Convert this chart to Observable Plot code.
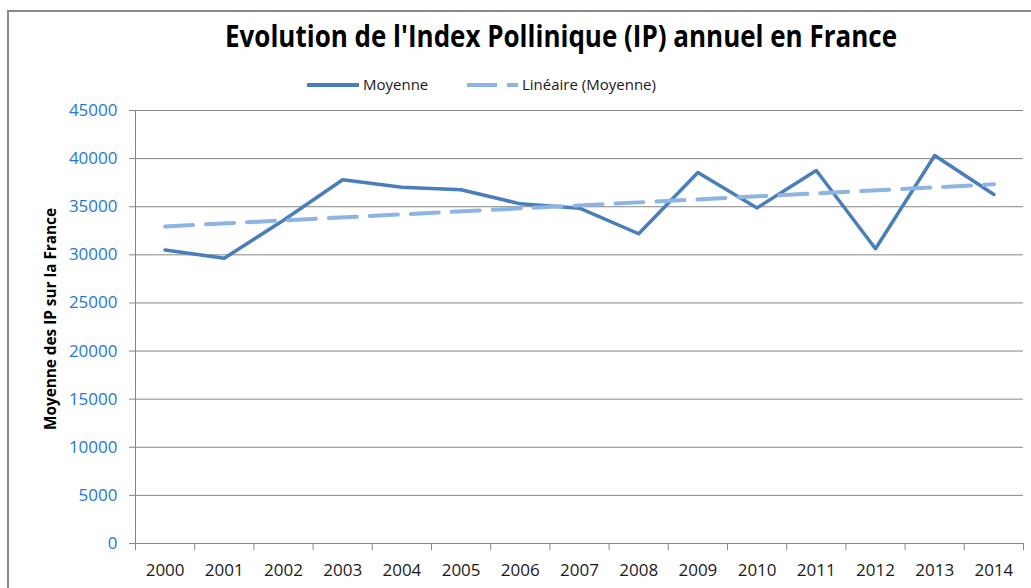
<!DOCTYPE html>
<html>
<head>
<meta charset="utf-8">
<script src="https://cdn.jsdelivr.net/npm/d3@7"></script>
<script src="https://cdn.jsdelivr.net/npm/@observablehq/plot@0.6"></script>
<style>
  html, body { margin: 0; padding: 0; background: #fff; }
  body { width: 1031px; height: 588px; overflow: hidden; position: relative; font-family: "Open Sans", sans-serif; }
  #frame { position: absolute; left: 7px; top: 10px; width: 1200px; height: 800px;
           border-left: 2px solid #8a8a8a; border-top: 2px solid #8a8a8a; box-sizing: border-box; }
  #chart { position: absolute; left: 0; top: 0; }
  #overlay { position: absolute; left: 0; top: 0; pointer-events: none; }
</style>
</head>
<body>
<div id="frame"></div>
<div id="chart"></div>
<svg id="overlay" width="1031" height="588"></svg>
<script>
// ---- data ----
const years = [2000, 2001, 2002, 2003, 2004, 2005, 2006, 2007, 2008, 2009, 2010, 2011, 2012, 2013, 2014];
const moyenne = [30500, 29650, 33600, 37800, 37030, 36760, 35300, 34850, 32190, 38560, 34880, 38760, 30630, 40320, 36270];
const yTicks = [0, 5000, 10000, 15000, 20000, 25000, 30000, 35000, 40000, 45000];
const titleText = "Evolution de l'Index Pollinique (IP) annuel en France";
const yLabel = "Moyenne des IP sur la France";
const seriesNames = ["Moyenne", "Linéaire (Moyenne)"];

const data = years.map((y, i) => ({year: y, value: moyenne[i]}));
const boundaries = [years[0] - 0.5, ...years.map(y => y + 0.5)];

const lineColor = "#4A7EBB";
const trendColor = "#8DB4E2";
const gridColor = "#868686";
const tickBlue = "#2478D2";

const plot = Plot.plot({
  width: 1031,
  height: 588,
  marginTop: 110,
  marginBottom: 45,
  marginLeft: 135,
  marginRight: 8,
  style: {fontFamily: "'Open Sans', sans-serif", fontSize: "17px", background: "transparent", overflow: "visible"},
  x: {domain: [boundaries[0], boundaries[boundaries.length - 1]]},
  y: {domain: [0, 45000]},
  marks: [
    Plot.ruleY(yTicks, {stroke: gridColor, strokeWidth: 1}),
    Plot.ruleX([boundaries[0]], {stroke: gridColor, strokeWidth: 1}),
    Plot.axisX({ticks: boundaries, tickSize: 7, tickFormat: () => "", stroke: gridColor, label: null}),
    Plot.axisX({ticks: years, tickSize: 0, tickPadding: 20, tickFormat: d => String(d), fill: "#1a1a1a", fontSize: 17, label: null}),
    Plot.axisY({ticks: yTicks, tickSize: 6, tickFormat: () => "", stroke: gridColor, label: null}),
    Plot.axisY({ticks: yTicks, tickSize: 0, tickPadding: 18, tickFormat: d => String(d), fill: tickBlue, fontSize: 17, label: null}),
    Plot.line(data, {x: "year", y: "value", stroke: lineColor, strokeWidth: 3.5, strokeLinejoin: "round", strokeLinecap: "round"}),
    Plot.linearRegressionY(data, {x: "year", y: "value", stroke: trendColor, strokeWidth: 4, strokeDasharray: "28,13", ci: 0})
  ]
});
document.getElementById("chart").appendChild(plot);

// ---- title, legend, y-axis label ----
const ov = d3.select("#overlay");
ov.append("text")
  .attr("x", 561).attr("y", 47)
  .attr("text-anchor", "middle")
  .attr("font-family", "'Open Sans', sans-serif")
  .attr("font-weight", "bold")
  .attr("font-size", 30)
  .attr("textLength", 672)
  .attr("lengthAdjust", "spacingAndGlyphs")
  .attr("fill", "#000")
  .text(titleText);

// legend
ov.append("line").attr("x1", 307).attr("x2", 359).attr("y1", 85).attr("y2", 85)
  .attr("stroke", lineColor).attr("stroke-width", 4);
ov.append("text").attr("x", 363).attr("y", 90)
  .attr("font-family", "'Open Sans', sans-serif").attr("font-size", 15).attr("fill", "#1a1a1a")
  .text(seriesNames[0]);
ov.append("line").attr("x1", 467).attr("x2", 518).attr("y1", 85).attr("y2", 85)
  .attr("stroke", trendColor).attr("stroke-width", 4).attr("stroke-dasharray", "30,10");
ov.append("text").attr("x", 522).attr("y", 90)
  .attr("font-family", "'Open Sans', sans-serif").attr("font-size", 15).attr("fill", "#1a1a1a")
  .text(seriesNames[1]);

// y label
ov.append("text")
  .attr("transform", "translate(56,319) rotate(-90)")
  .attr("text-anchor", "middle")
  .attr("font-family", "'Open Sans', sans-serif")
  .attr("font-weight", "bold")
  .attr("font-size", 15.5)
  .attr("textLength", 222)
  .attr("lengthAdjust", "spacingAndGlyphs")
  .attr("fill", "#000")
  .text(yLabel);
</script>
</body>
</html>
